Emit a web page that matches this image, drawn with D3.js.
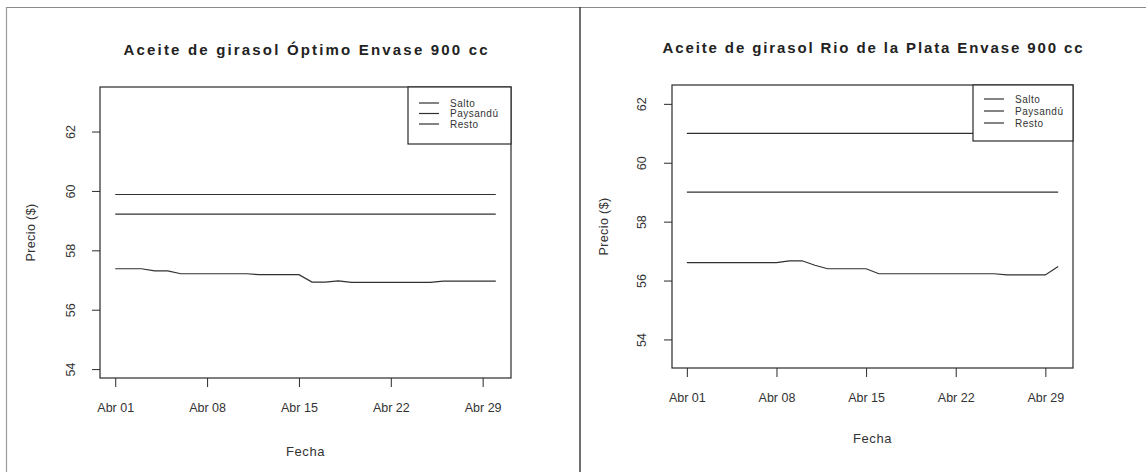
<!DOCTYPE html>
<html>
<head>
<meta charset="utf-8">
<script src="https://cdn.jsdelivr.net/npm/d3@7"></script>
<style>
  html, body { margin: 0; padding: 0; background: #fff; }
  svg { display: block; font-family: "Liberation Sans", Arial, Helvetica, sans-serif; }
</style>
</head>
<body>
<svg id="chart" width="1146" height="472"></svg>
<script>
// ---------------- DATA ----------------
const fechas = [
  "2010-04-01","2010-04-02","2010-04-03","2010-04-04","2010-04-05","2010-04-06",
  "2010-04-07","2010-04-08","2010-04-09","2010-04-10","2010-04-11","2010-04-12",
  "2010-04-13","2010-04-14","2010-04-15","2010-04-16","2010-04-17","2010-04-18",
  "2010-04-19","2010-04-20","2010-04-21","2010-04-22","2010-04-23","2010-04-24",
  "2010-04-25","2010-04-26","2010-04-27","2010-04-28","2010-04-29","2010-04-30"
];
const series = ["Salto", "Paysandú", "Resto"];
const yTicks = [54, 56, 58, 60, 62];
const xTickFechas = ["2010-04-01", "2010-04-08", "2010-04-15", "2010-04-22", "2010-04-29"];

// Aceite de girasol Óptimo Envase 900 cc
const titulo1 = "Aceite de girasol Óptimo Envase 900 cc";
const saltoOptimo = [59.88,59.88,59.88,59.88,59.88,59.88,59.88,59.88,59.88,59.88,
                     59.88,59.88,59.88,59.88,59.88,59.88,59.88,59.88,59.88,59.88,
                     59.88,59.88,59.88,59.88,59.88,59.88,59.88,59.88,59.88,59.88];
const paysanduOptimo = [59.22,59.22,59.22,59.22,59.22,59.22,59.22,59.22,59.22,59.22,
                        59.22,59.22,59.22,59.22,59.22,59.22,59.22,59.22,59.22,59.22,
                        59.22,59.22,59.22,59.22,59.22,59.22,59.22,59.22,59.22,59.22];
const restoOptimo = [57.38,57.38,57.38,57.31,57.31,57.21,57.21,57.21,57.21,57.21,
                     57.21,57.18,57.18,57.18,57.18,56.93,56.93,56.97,56.92,56.92,
                     56.92,56.92,56.92,56.92,56.92,56.96,56.96,56.96,56.96,56.96];

// Aceite de girasol Rio de la Plata Envase 900 cc
const titulo2 = "Aceite de girasol Rio de la Plata Envase 900 cc";
const saltoRio = [61,61,61,61,61,61,61,61,61,61,61,61,61,61,61,
                  61,61,61,61,61,61,61,61,61,61,61,61,61,61,61];
const paysanduRio = [59,59,59,59,59,59,59,59,59,59,59,59,59,59,59,
                     59,59,59,59,59,59,59,59,59,59,59,59,59,59,59];
const restoRio = [56.61,56.61,56.61,56.61,56.61,56.61,56.61,56.61,56.67,56.67,
                  56.52,56.40,56.40,56.40,56.40,56.23,56.23,56.23,56.23,56.23,
                  56.23,56.23,56.23,56.23,56.23,56.19,56.19,56.19,56.19,56.48];

// ---------------- DRAW ----------------
const parse = d3.timeParse("%Y-%m-%d");
const fmt = d3.timeFormat("Abr %d");
const svg = d3.select("#chart");

// scanned page frame
svg.append("line").attr("x1", 6.5).attr("x2", 1146).attr("y1", 7.5).attr("y2", 7.5)
  .attr("stroke", "#8a8a8a").attr("stroke-width", 1.2);
svg.append("line").attr("x1", 6.5).attr("x2", 6.5).attr("y1", 7).attr("y2", 472)
  .attr("stroke", "#9a9a9a").attr("stroke-width", 1.2);
svg.append("line").attr("x1", 580).attr("x2", 580).attr("y1", 7).attr("y2", 472)
  .attr("stroke", "#333").attr("stroke-width", 1.4);

function panel(cfg) {
  const g = svg.append("g");
  const x = d3.scaleTime()
    .domain([parse(fechas[0]), parse(fechas[fechas.length - 1])]);
  // R style 4% extension
  const [d0, d1] = x.domain();
  const ext = (d1 - d0) * 0.04;
  x.domain([new Date(+d0 - ext), new Date(+d1 + ext)]).range([cfg.left, cfg.right]);
  const y = d3.scaleLinear().domain(cfg.ydomain).range([cfg.bottom, cfg.top]);

  const ink = "#2a2a2a";

  // title
  g.append("text").attr("x", (cfg.left + cfg.right) / 2).attr("y", cfg.titleY)
    .attr("text-anchor", "middle").attr("font-weight", "bold").attr("font-size", 15)
    .attr("textLength", cfg.titleLen).attr("lengthAdjust", "spacing")
    .attr("fill", "#222").text(cfg.title);

  // y axis
  const ya = g.append("g").attr("transform", `translate(${cfg.left},0)`)
    .call(d3.axisLeft(y).tickValues(yTicks).tickSize(8).tickFormat(d3.format("d")));
  ya.select(".domain").remove();
  ya.selectAll(".tick line").attr("stroke", ink);
  ya.selectAll(".tick text").attr("font-size", 12.5).attr("fill", "#333")
    .attr("text-anchor", "middle").attr("x", 0).attr("dy", null)
    .attr("transform", `translate(${cfg.yLabelX - cfg.left},0) rotate(-90)`)
    .attr("y", 4);
  // x axis
  const xa = g.append("g").attr("transform", `translate(0,${cfg.bottom})`)
    .call(d3.axisBottom(x).tickValues(xTickFechas.map(parse)).tickSize(9).tickFormat(fmt));
  xa.select(".domain").remove();
  xa.selectAll(".tick line").attr("stroke", ink);
  xa.selectAll(".tick text").attr("font-size", 12.5).attr("fill", "#333")
    .attr("y", cfg.xLabelY - cfg.bottom).attr("dy", 0);

  // axis titles
  g.append("text").attr("x", (cfg.left + cfg.right) / 2).attr("y", cfg.fechaY)
    .attr("text-anchor", "middle").attr("font-size", 13).attr("letter-spacing", 0.6)
    .attr("fill", "#333").text("Fecha");
  g.append("text").attr("transform", `translate(${cfg.precioX},${(cfg.top + cfg.bottom) / 2}) rotate(-90)`)
    .attr("text-anchor", "middle").attr("font-size", 12.5).attr("letter-spacing", 0.4)
    .attr("fill", "#333").text("Precio ($)");

  // series lines
  const line = d3.line().x((d, i) => x(parse(fechas[i]))).y(d => y(d));
  cfg.values.forEach(vals => {
    g.append("path").datum(vals).attr("d", line).attr("fill", "none")
      .attr("stroke", "#303030").attr("stroke-width", 1.2);
  });

  // plot box
  g.append("rect").attr("x", cfg.left).attr("y", cfg.top)
    .attr("width", cfg.right - cfg.left).attr("height", cfg.bottom - cfg.top)
    .attr("fill", "none").attr("stroke", ink).attr("stroke-width", 1.2);

  // legend
  const lg = g.append("g");
  lg.append("rect").attr("x", cfg.legX).attr("y", cfg.top)
    .attr("width", cfg.right - cfg.legX).attr("height", cfg.legBottom - cfg.top)
    .attr("fill", "#fff").attr("stroke", ink).attr("stroke-width", 1.2);
  series.forEach((s, i) => {
    const yy = cfg.legRow0 + i * cfg.legStep;
    lg.append("line").attr("x1", cfg.legX + 11).attr("x2", cfg.legX + 31)
      .attr("y1", yy).attr("y2", yy).attr("stroke", "#303030").attr("stroke-width", 1.2);
    lg.append("text").attr("x", cfg.legX + 42).attr("y", yy + 3.5)
      .attr("font-size", 10).attr("letter-spacing", 0.5).attr("fill", "#333").text(s);
  });
}

panel({
  title: titulo1, titleY: 55, titleLen: 364,
  left: 100, right: 511, top: 87, bottom: 378,
  ydomain: [53.7, 63.5],
  yLabelX: 71, precioX: 35, xLabelY: 412, fechaY: 456,
  values: [saltoOptimo, paysanduOptimo, restoOptimo],
  legX: 408, legBottom: 144, legRow0: 103, legStep: 10.5
});

panel({
  title: titulo2, titleY: 53, titleLen: 420,
  left: 672, right: 1073, top: 85, bottom: 368,
  ydomain: [53.03, 62.64],
  yLabelX: 642, precioX: 608, xLabelY: 402, fechaY: 443,
  values: [saltoRio, paysanduRio, restoRio],
  legX: 973, legBottom: 141, legRow0: 99, legStep: 12
});
</script>
</body>
</html>
